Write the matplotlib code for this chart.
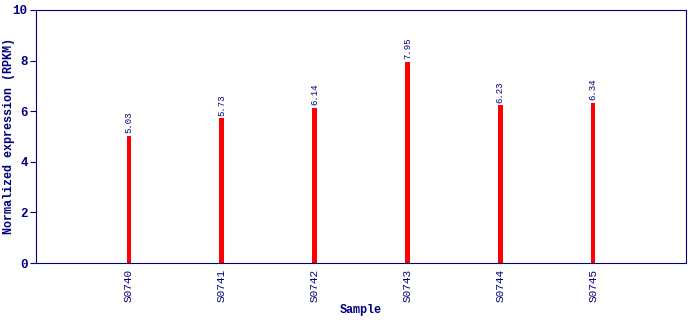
import matplotlib
matplotlib.use("Agg")
import matplotlib.pyplot as plt

samples = ["S0740", "S0741", "S0742", "S0743", "S0744", "S0745"]
values = [5.03, 5.73, 6.14, 7.95, 6.23, 6.34]
labels = ["5.03", "5.73", "6.14", "7.95", "6.23", "6.34"]

navy = "#000080"
mono = "Liberation Mono"

fig = plt.figure(figsize=(6.9, 3.2), dpi=100)
ax = fig.add_axes([36/690, 57/320, 650/690, 253/320])

xs = list(range(1, len(samples) + 1))
ax.bar(xs, values, width=0.05, color="#ff0000")
for x, v, t in zip(xs, values, labels):
    ax.text(x, v + 0.1, t, rotation=90, ha="center", va="bottom",
            fontsize=6.5, family=mono, color=navy)

ax.set_xlim(0, 7)
ax.set_ylim(0, 10)
ax.set_xticks(xs)
ax.set_xticklabels(samples, rotation=90, fontsize=8, family=mono, color=navy)
ax.set_yticks([0, 2, 4, 6, 8, 10])
ax.set_yticklabels(["0", "2", "4", "6", "8", "10"], fontsize=9, family=mono,
                   color=navy, fontweight="bold")
ax.tick_params(axis="x", length=0, pad=4)
ax.tick_params(axis="y", length=4, color=navy, pad=2)
for s in ax.spines.values():
    s.set_color(navy)

ax.set_xlabel("Sample", fontsize=8.5, family=mono, color=navy, fontweight="bold", labelpad=2)
ax.set_ylabel("Normalized expression (RPKM)", fontsize=8.5, family=mono, color=navy,
              fontweight="bold")
ax.yaxis.set_label_coords(-0.032, 0.5)

fig.savefig("out.png", dpi=100)
